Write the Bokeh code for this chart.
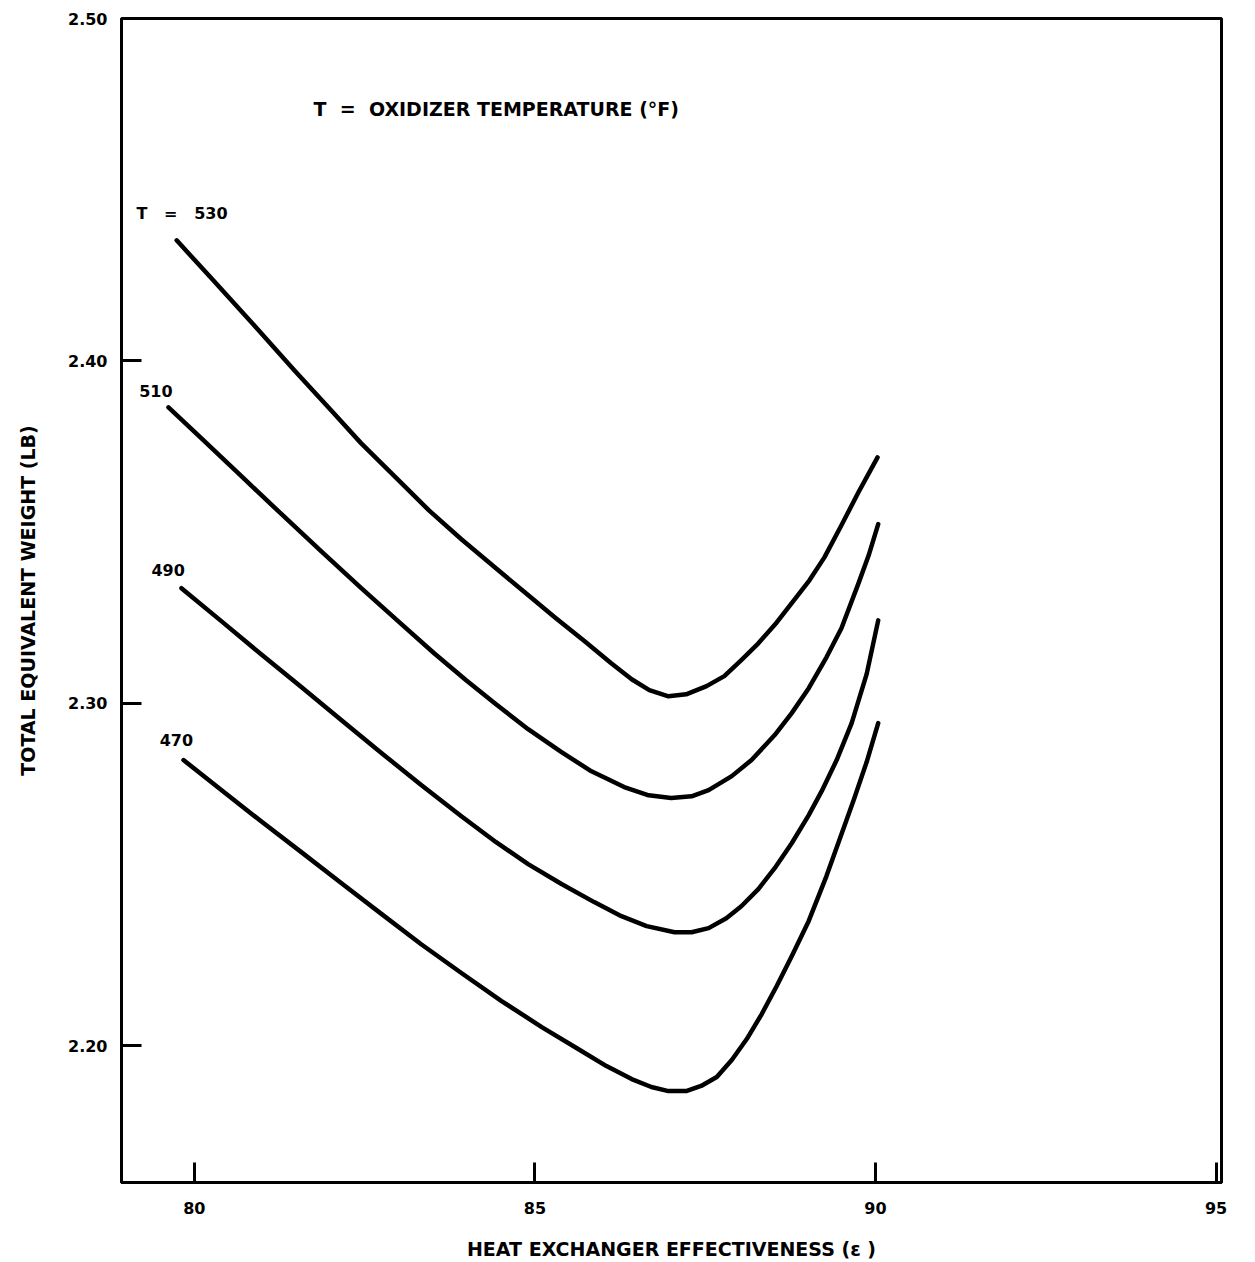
from bokeh.plotting import figure
from bokeh.models import FixedTicker, PrintfTickFormatter, Label
from bokeh.embed import file_html
from bokeh.resources import INLINE

# ---- data ----
eff_530 = [79.74, 80.25, 80.84, 81.47, 82.01, 82.45, 82.97, 83.44, 83.92, 84.41, 84.85, 85.29, 85.73, 86.12, 86.42,
           86.68, 86.96, 87.22, 87.52, 87.78, 88.03, 88.28, 88.55, 88.77, 89.03, 89.25, 89.50, 89.75, 90.03]
w_530   = [2.4352, 2.4241, 2.4112, 2.3972, 2.3855, 2.3759, 2.3657, 2.3564, 2.3479, 2.3397, 2.3324, 2.3251, 2.3181, 2.3117, 2.3070,
           2.3038, 2.3020, 2.3026, 2.3050, 2.3079, 2.3126, 2.3175, 2.3236, 2.3292, 2.3359, 2.3426, 2.3520, 2.3616, 2.3718]

eff_510 = [79.62, 80.10, 80.69, 81.28, 81.86, 82.45, 83.04, 83.52, 83.99, 84.41, 84.90, 85.39, 85.83, 86.31, 86.67,
           87.00, 87.30, 87.55, 87.89, 88.18, 88.52, 88.77, 89.02, 89.28, 89.50, 89.75, 89.90, 90.04]
w_510   = [2.3864, 2.3774, 2.3663, 2.3552, 2.3444, 2.3336, 2.3231, 2.3146, 2.3067, 2.3000, 2.2924, 2.2857, 2.2801, 2.2755, 2.2731,
           2.2723, 2.2728, 2.2746, 2.2787, 2.2834, 2.2907, 2.2971, 2.3044, 2.3134, 2.3219, 2.3350, 2.3432, 2.3523]

eff_490 = [79.81, 80.40, 80.98, 81.57, 82.16, 82.75, 83.33, 83.92, 84.43, 84.90, 85.39, 85.87, 86.27, 86.64, 87.05,
           87.30, 87.55, 87.81, 88.03, 88.28, 88.52, 88.77, 89.02, 89.21, 89.43, 89.65, 89.87, 90.04]
w_490   = [2.3336, 2.3239, 2.3143, 2.3047, 2.2950, 2.2854, 2.2761, 2.2670, 2.2594, 2.2530, 2.2472, 2.2419, 2.2378, 2.2349, 2.2331,
           2.2331, 2.2343, 2.2372, 2.2407, 2.2457, 2.2518, 2.2591, 2.2673, 2.2743, 2.2834, 2.2942, 2.3085, 2.3242]

eff_470 = [79.84, 80.40, 80.98, 81.57, 82.16, 82.75, 83.33, 83.92, 84.51, 85.10, 85.61, 86.05, 86.42, 86.71, 86.96,
           87.22, 87.44, 87.67, 87.89, 88.11, 88.33, 88.55, 88.77, 89.02, 89.28, 89.50, 89.68, 89.87, 90.04]
w_470   = [2.2834, 2.2746, 2.2655, 2.2565, 2.2474, 2.2384, 2.2296, 2.2212, 2.2130, 2.2054, 2.1993, 2.1940, 2.1902, 2.1879, 2.1867,
           2.1867, 2.1882, 2.1908, 2.1958, 2.2019, 2.2092, 2.2174, 2.2261, 2.2364, 2.2495, 2.2617, 2.2717, 2.2828, 2.2942]

x_ticks = [80, 85, 90, 95]
y_ticks = [2.20, 2.30, 2.40, 2.50]

NB = "\u00a0"
curve_labels = ["T" + NB * 3 + "=" + NB * 3 + "530", "510", "490", "470"]
label_x = [79.15, 79.19, 79.37, 79.49]
label_y = [2.4431, 2.3911, 2.3388, 2.2892]

title_text = "T" + NB * 2 + "=" + NB * 2 + "OXIDIZER TEMPERATURE (\u00b0F)"
x_title = "HEAT EXCHANGER EFFECTIVENESS (\u03b5 )"
y_title = "TOTAL EQUIVALENT WEIGHT (LB)"

FONT = "DejaVu Sans"

p = figure(width=1255, height=1262, x_range=(78.93, 95.08), y_range=(2.16, 2.50),
           output_backend="svg", toolbar_location=None,
           min_border_left=121, min_border_right=34, min_border_top=18, min_border_bottom=79)

p.background_fill_color = "white"
p.border_fill_color = "white"
p.outline_line_color = "black"
p.outline_line_width = 3
p.grid.visible = False

for xs, ys in [(eff_530, w_530), (eff_510, w_510), (eff_490, w_490), (eff_470, w_470)]:
    p.line(xs, ys, line_color="black", line_width=4.5, line_join="round", line_cap="round")

p.xaxis.ticker = FixedTicker(ticks=x_ticks)
p.yaxis.ticker = FixedTicker(ticks=y_ticks)
p.yaxis.formatter = PrintfTickFormatter(format="%.2f")

for ax in (p.xaxis, p.yaxis):
    ax.axis_line_color = "black"
    ax.axis_line_width = 3
    ax.major_tick_in = 20
    ax.major_tick_out = 0
    ax.major_tick_line_width = 3
    ax.major_tick_line_color = "black"
    ax.minor_tick_line_color = None
    ax.major_label_text_font = FONT
    ax.major_label_text_font_size = "16px"
    ax.major_label_text_font_style = "bold"
    ax.major_label_text_color = "black"
    ax.axis_label_text_font = FONT
    ax.axis_label_text_font_size = "19px"
    ax.axis_label_text_font_style = "bold"
    ax.axis_label_text_color = "black"

p.xaxis.major_label_standoff = 19
p.yaxis.major_label_standoff = 14
p.xaxis.axis_label = x_title
p.yaxis.axis_label = y_title
p.xaxis.axis_label_standoff = 21
p.yaxis.axis_label_standoff = 26

for txt, lx, ly in zip(curve_labels, label_x, label_y):
    p.add_layout(Label(x=lx, y=ly, text=txt, text_font=FONT, text_font_size="16px",
                       text_font_style="bold",
                       text_align="left", text_baseline="middle", text_color="black"))

p.add_layout(Label(x=81.75, y=2.4737, text=title_text, text_font=FONT, text_font_size="19px",
                   text_font_style="bold",
                   text_align="left", text_baseline="middle", text_color="black"))

open("out.html", "w").write(file_html(p, INLINE))
